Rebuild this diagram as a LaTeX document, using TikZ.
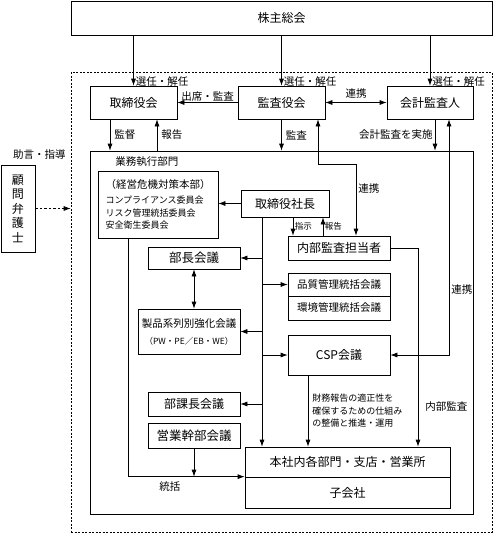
\documentclass[tikz,border=0pt]{standalone}
\usepackage{fontspec}
\setmainfont{Noto Sans CJK JP}
\usetikzlibrary{arrows.meta}

\begin{document}
\begin{tikzpicture}[x=1pt,y=-1pt,line width=0.7pt,>={Latex[length=7pt,width=5pt]},
  box/.style={draw,fill=white,inner sep=1pt,font=\fontsize{12}{14}\selectfont},
  lbl/.style={inner sep=2pt,font=\fontsize{10.5}{12.5}\selectfont},
  small/.style={inner sep=1.5pt,font=\fontsize{9}{12.5}\selectfont}]
\useasboundingbox (0,0) rectangle (493,533);
% frames
\node[draw,dash pattern=on 2pt off 1.5pt,line width=0.6pt,minimum width=421,minimum height=460] (kaisha) at (281.5,302) {};
\node[draw,minimum width=383,minimum height=363] (gyomu) at (281.5,332.5) {};
\node[lbl,anchor=west] (gyomulbl) at (113,162) {業務執行部門};
% top level
\node[box,minimum width=421,minimum height=34] (kabunushi) at (281.5,18) {株主総会};
\node[box,minimum width=87,minimum height=33] (torishimari) at (133.5,102.5) {取締役会};
\node[box,minimum width=87,minimum height=33] (kansa) at (281.5,102.5) {監査役会};
\node[box,minimum width=86,minimum height=33] (kaikei) at (430,102.5) {会計監査人};
\node[box,minimum width=34,minimum height=87,align=center,font=\fontsize{12}{14.5}\selectfont] (komon) at (18,208.5) {顧\\問\\弁\\護\\士};
\node[lbl,anchor=east] (jogen) at (68,155) {助言・指導};
% inside
\node[box,minimum width=120,minimum height=67,align=left,font=\fontsize{9}{12.5}\selectfont] (keiei) at (158,204.5)
  {{\fontsize{10.5}{12}\selectfont （経営危機対策本部）}\\[3pt]コンプライアンス委員会\\リスク管理統括委員会\\安全衛生委員会};
\node[box,minimum width=88,minimum height=27] (shacho) at (285,203.5) {取締役社長};
\node[box,minimum width=102,minimum height=24] (naibu) at (339,248) {内部監査担当者};
\node[box,minimum width=102,minimum height=23,font=\fontsize{10.5}{12}\selectfont] (hinshitsu) at (339,284.5) {品質管理統括会議};
\node[box,minimum width=102,minimum height=24,font=\fontsize{10.5}{12}\selectfont] (kankyo) at (339,308) {環境管理統括会議};
\node[box,minimum width=92,minimum height=22,font=\fontsize{12.5}{14}\selectfont] (bucho) at (194,258) {部長会議};
\node[box,minimum width=102,minimum height=45,align=center,font=\fontsize{10.5}{12}\selectfont] (seihin) at (189,331.5)
  {製品系列別強化会議\\[5pt]{\fontsize{8.5}{10}\selectfont（PW・PE／EB・WE）}};
\node[box,minimum width=102,minimum height=40] (csp) at (339,355) {CSP会議};
\node[box,minimum width=92,minimum height=24] (bukacho) at (194,404) {部課長会議};
\node[box,minimum width=92,minimum height=25,font=\fontsize{12.5}{14}\selectfont] (eigyo) at (194,435.5) {営業幹部会議};
\node[box,minimum width=205,minimum height=30] (honsha) at (347.5,462) {本社内各部門・支店・営業所};
\node[box,minimum width=205,minimum height=31] (kogaisha) at (347.5,492.5) {子会社};
% connectors, top
\draw[->] (kabunushi.south -| torishimari.north) -- (torishimari.north) node[lbl,right,pos=0.91] {選任・解任};
\draw[->] (kabunushi.south -| kansa.north) -- (kansa.north) node[lbl,right,pos=0.91] {選任・解任};
\draw[->] (kabunushi.south -| kaikei.north) -- (kaikei.north) node[lbl,right,pos=0.91] {選任・解任};
\draw[->] (kansa.west) -- (torishimari.east) node[lbl,above,midway,inner sep=1pt] {出席・監査};
\draw[<->] (kansa.east) -- (kaikei.west) node[lbl,above,midway,inner sep=4pt] {連携};
\draw[->] ([xshift=-23.5pt]torishimari.south) -- ([xshift=-23.5pt]torishimari.south |- gyomu.north) node[lbl,right,midway,inner sep=4pt] {監督};
\draw[->] ([xshift=23.5pt]torishimari.south |- gyomu.north) -- ([xshift=23.5pt]torishimari.south) node[lbl,right,midway,inner sep=4pt] {報告};
\draw[->] (kansa.south) -- (kansa.south |- gyomu.north) node[lbl,right,midway,inner sep=4pt] {監査};
\draw[->] ([xshift=5pt]kaikei.south) -- ([xshift=5pt]kaikei.south |- gyomu.north) node[lbl,left,midway,inner sep=2pt] {会計監査を実施};
\draw[<->] ([xshift=36.5pt]kansa.south) -- ++(0,45) -| ([xshift=17pt]naibu.north) node[lbl,right,pos=0.67,inner sep=2pt] {連携};
\draw[<->] ([xshift=19pt]kaikei.south) |- (csp.east) node[lbl,right,pos=0.36,inner sep=2pt] {連携};
\draw[->,dash pattern=on 2.5pt off 2pt] (komon.east) -- (komon.east -| kaisha.west);
% connectors, inside
\draw[->] (shacho.west) -- (shacho.west -| keiei.east);
\coordinate (trunk) at ([xshift=-23pt]shacho.south);
\draw[->] (trunk) -- (trunk |- honsha.north);
\draw[->] (trunk |- bucho.east) -- (bucho.east);
\draw[->] (trunk |- hinshitsu.west) -- (hinshitsu.west);
\draw[->] (trunk |- seihin.east) -- (seihin.east);
\draw[->] (trunk |- csp.west) -- (csp.west);
\draw[->] (trunk |- bukacho.east) -- (bukacho.east);
\draw[->] ([xshift=8pt]shacho.south) -- ([xshift=8pt]shacho.south |- naibu.north) node[small,right,midway,font=\fontsize{8.5}{10}\selectfont] {指示};
\draw[->] ([xshift=38pt]shacho.south |- naibu.north) -- ([xshift=38pt]shacho.south) node[small,right,midway,font=\fontsize{8.5}{10}\selectfont] {報告};
\draw[<->] (bucho.south) -- (bucho.south |- seihin.north);
\draw[->] ([xshift=-30pt]keiei.south) |- (kogaisha.north west) node[lbl,below,pos=0.68,inner sep=5pt] {統括};
\draw[->] (eigyo.south) -- (eigyo.south |- kogaisha.north west);
\draw[->] ([xshift=-31pt]csp.south) -- ([xshift=-31pt]csp.south |- honsha.north) node[small,right,midway,align=left,inner sep=4pt] {財務報告の適正性を\\確保するための仕組み\\の整備と推進・運用};
\draw[->] (naibu.east) -| ([xshift=70.5pt]honsha.north) node[lbl,right,pos=0.9,inner sep=7pt] {内部監査};
\end{tikzpicture}
\end{document}
